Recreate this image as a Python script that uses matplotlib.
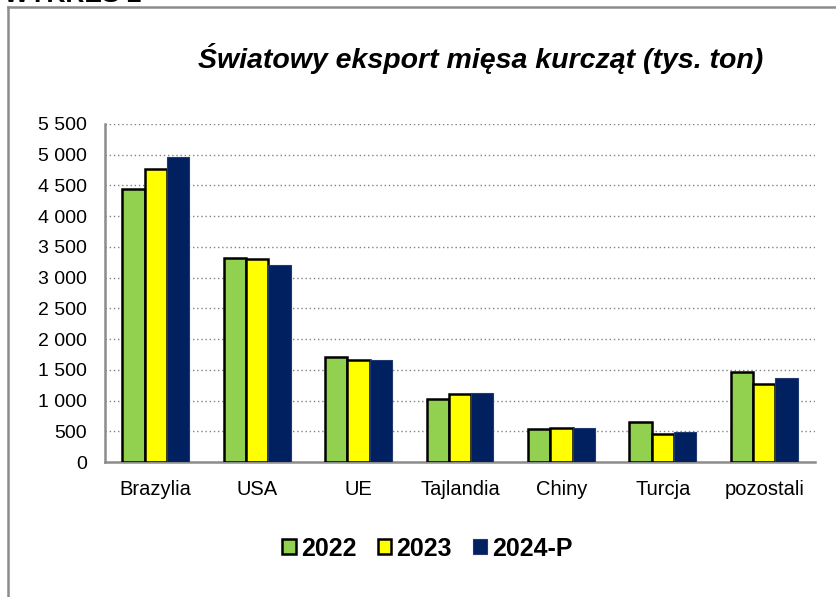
import numpy as np
import matplotlib.pyplot as plt
from matplotlib.lines import Line2D
from matplotlib.ticker import FuncFormatter

# data (thousand tonnes)
kraje = ['Brazylia', 'USA', 'UE', 'Tajlandia', 'Chiny', 'Turcja', 'pozostali']
eksport_2022 = [4450, 3320, 1705, 1025, 537, 655, 1470]
eksport_2023 = [4770, 3305, 1660, 1100, 558, 462, 1275]
eksport_2024p = [4970, 3210, 1655, 1120, 553, 483, 1372]
serie = ['2022', '2023', '2024-P']

plt.rcParams['font.family'] = ['Liberation Sans', 'DejaVu Sans']

fig = plt.figure(figsize=(8.36, 5.97), dpi=100)
ax = fig.add_axes([0.1256, 0.2261, 0.8493, 0.5662])

x = np.arange(len(kraje))
w = 0.22
ax.bar(x - w, eksport_2022, w, color='#92D050', edgecolor='black', linewidth=1.8, label=serie[0], zorder=3)
ax.bar(x, eksport_2023, w, color='#FFFF00', edgecolor='black', linewidth=1.8, label=serie[1], zorder=3)
ax.bar(x + w, eksport_2024p, w, color='#002060', edgecolor='#1F3A70', linewidth=0.8, label=serie[2], zorder=3)

ax.set_xlim(-0.5, len(kraje) - 0.5)
ax.set_ylim(0, 5500)
ax.set_yticks(np.arange(0, 5501, 500))
ax.yaxis.set_major_formatter(FuncFormatter(lambda v, p: f'{int(v):,}'.replace(',', ' ')))
ax.set_xticks(x)
ax.set_xticklabels(kraje)
ax.tick_params(axis='both', length=0, colors='black')
ax.tick_params(axis='x', labelsize=14.5, pad=13)
ax.tick_params(axis='y', labelsize=14, pad=13)

ax.grid(axis='y', linestyle=(0, (1, 2)), color='#808080', linewidth=1, zorder=0)
for s in ['top', 'right']:
    ax.spines[s].set_visible(False)
for s in ['left', 'bottom']:
    ax.spines[s].set_color('#8C8C8C')
    ax.spines[s].set_linewidth(1.8)

fig.text(0.575, 0.902, 'Światowy eksport mięsa kurcząt (tys. ton)',
         ha='center', va='center', fontsize=20.5, fontweight='bold', fontstyle='italic')

# cut-off header at the very top
fig.text(0.005, 0.997, 'WYKRES 2', ha='left', va='baseline', fontsize=19, fontweight='bold')

# outer frame (left and top edges only)
fig.add_artist(Line2D([0.0095, 0.0095], [0.0, 0.988], color='#8C8C8C', linewidth=1.8))
fig.add_artist(Line2D([0.0095, 1.0], [0.988, 0.988], color='#8C8C8C', linewidth=1.8))

fig.legend(loc='center', bbox_to_anchor=(0.511, 0.081), ncol=3, frameon=False,
           prop={'weight': 'bold', 'size': 18}, handlelength=0.55, handleheight=0.55,
           handletextpad=0.2, columnspacing=0.85)

fig.savefig('out.png', dpi=100)
